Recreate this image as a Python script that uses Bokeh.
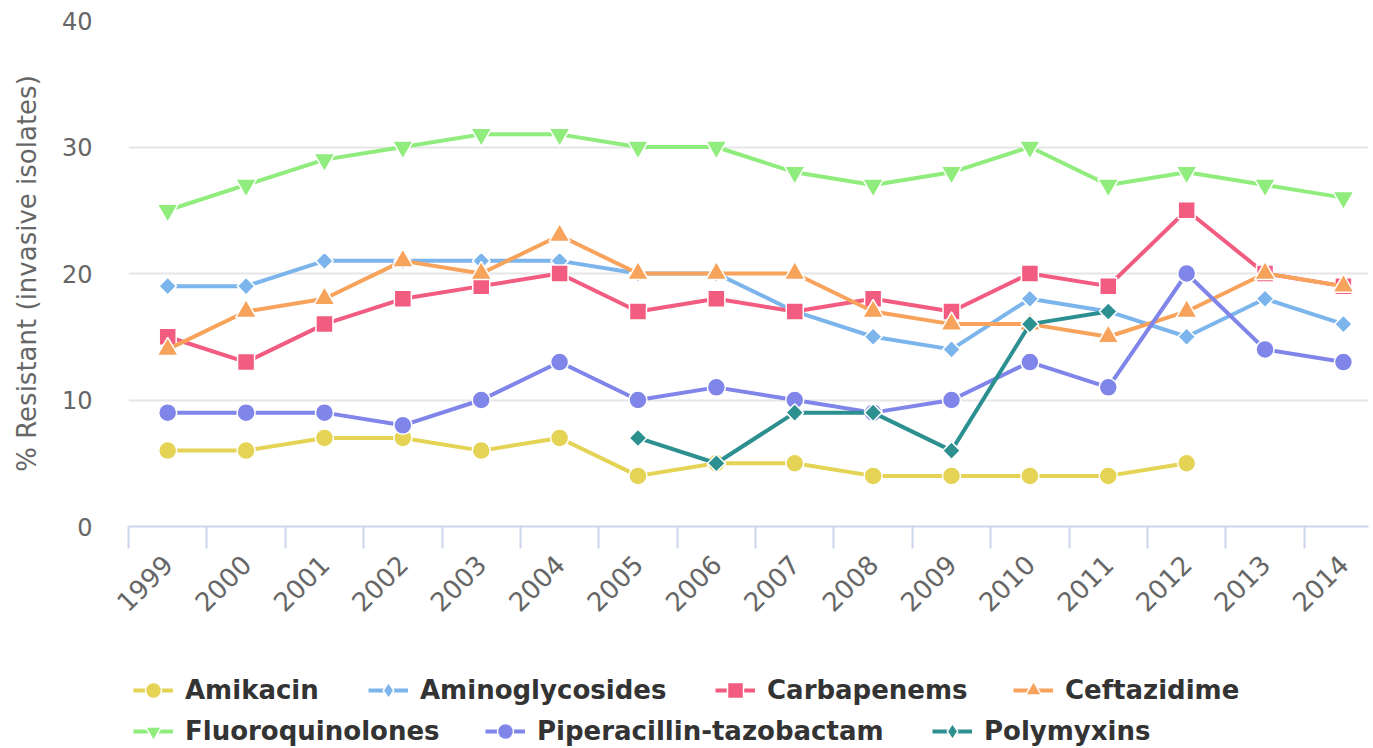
from math import pi
from bokeh.plotting import figure
from bokeh.layouts import column
from bokeh.models import Range1d, FixedTicker, Legend, LegendItem
from bokeh.embed import file_html
from bokeh.resources import INLINE

nan = float("nan")

years = [str(y) for y in range(1999, 2015)]
amikacin = [6, 6, 7, 7, 6, 7, 4, 5, 5, 4, 4, 4, 4, 5, nan, nan]
aminoglycosides = [19, 19, 21, 21, 21, 21, 20, 20, 17, 15, 14, 18, 17, 15, 18, 16]
carbapenems = [15, 13, 16, 18, 19, 20, 17, 18, 17, 18, 17, 20, 19, 25, 20, 19]
ceftazidime = [14, 17, 18, 21, 20, 23, 20, 20, 20, 17, 16, 16, 15, 17, 20, 19]
fluoroquinolones = [25, 27, 29, 30, 31, 31, 30, 30, 28, 27, 28, 30, 27, 28, 27, 26]
piperacillin_tazobactam = [9, 9, 9, 8, 10, 13, 10, 11, 10, 9, 10, 13, 11, 20, 14, 13]
polymyxins = [nan, nan, nan, nan, nan, nan, 7, 5, 9, 9, 6, 16, 17, nan, nan, nan]

series_names = ["Amikacin", "Aminoglycosides", "Carbapenems", "Ceftazidime",
                "Fluoroquinolones", "Piperacillin-tazobactam", "Polymyxins"]
series_values = [amikacin, aminoglycosides, carbapenems, ceftazidime,
                 fluoroquinolones, piperacillin_tazobactam, polymyxins]

FONT = "DejaVu Sans"
colors = ["#e4d354", "#7cb5ec", "#f15c80", "#f7a35c", "#90ed7d", "#8085e9", "#2b908f"]
# (marker, size, angle, legend marker, legend size)
markers = [("circle", 18, 0, "circle", 15),
           ("square", 12.5, pi / 4, "diamond", 16),
           ("square", 17, 0, "square", 14),
           ("triangle", 21, 0, "triangle", 17),
           ("inverted_triangle", 21, 0, "inverted_triangle", 17),
           ("circle", 18, 0, "circle", 15),
           ("square", 12.5, pi / 4, "diamond", 16)]
# legend placement in the legend strip (frame aligned with the chart frame)
legend_pos = [(5, 38), (240, 38), (587, 38), (885, 38),
              (5, -3), (357, -3), (804, -3)]

x = list(range(len(years)))

W = 1373
p = figure(width=W, height=640, output_backend="svg", toolbar_location=None,
           x_range=Range1d(-0.5, 15.32), y_range=Range1d(0, 40),
           min_border_left=128, min_border_right=5, min_border_top=20,
           min_border_bottom=114)
p.outline_line_color = None
p.background_fill_color = "white"
p.border_fill_color = "white"

# axes
p.xaxis.ticker = FixedTicker(ticks=x, minor_ticks=[i - 0.5 for i in x])
p.xaxis.major_label_overrides = {i: years[i] for i in x}
p.xaxis.major_label_orientation = pi / 4
p.xaxis.major_tick_in = 0
p.xaxis.major_tick_out = 0
p.xaxis.minor_tick_in = 0
p.xaxis.minor_tick_out = 22
p.xaxis.minor_tick_line_color = "#ccd6eb"
p.xaxis.minor_tick_line_width = 2
p.xaxis.axis_line_color = "#ccd6eb"
p.xaxis.axis_line_width = 2
p.xaxis.major_label_standoff = 11
p.xaxis.major_label_text_font = FONT
p.xaxis.major_label_text_font_size = "26px"
p.xaxis.major_label_text_color = "#666666"

p.yaxis.ticker = FixedTicker(ticks=[0, 10, 20, 30, 40])
p.yaxis.axis_line_color = None
p.yaxis.major_tick_out = 0
p.yaxis.major_tick_in = 0
p.yaxis.minor_tick_out = 0
p.yaxis.minor_tick_in = 0
p.yaxis.major_label_standoff = 36
p.yaxis.major_label_text_font = FONT
p.yaxis.major_label_text_font_size = "24px"
p.yaxis.major_label_text_color = "#666666"
p.yaxis.axis_label = "% Resistant (invasive isolates)"
p.yaxis.axis_label_text_font = FONT
p.yaxis.axis_label_text_font_size = "26px"
p.yaxis.axis_label_text_font_style = "normal"
p.yaxis.axis_label_text_color = "#666666"
p.yaxis.axis_label_standoff = 17

p.xgrid.visible = False
p.ygrid.ticker = FixedTicker(ticks=[0, 10, 20, 30, 40])
p.ygrid.grid_line_color = "#e6e6e6"
p.ygrid.grid_line_width = 2

# legend strip
LH = 108
q = figure(width=W, height=LH, output_backend="svg", toolbar_location=None,
           x_range=Range1d(0, W), y_range=Range1d(0, LH),
           x_axis_type=None, y_axis_type=None,
           min_border_left=0, min_border_right=0, min_border_top=0,
           min_border_bottom=0)
q.outline_line_color = None
q.xgrid.visible = False
q.ygrid.visible = False

for name, vals, col, (mk, sz, ang, lmk, lsz), (lx, ly) in zip(
        series_names, series_values, colors, markers, legend_pos):
    p.line(x, vals, line_color=col, line_width=4, line_join="round")
    p.scatter(x, vals, marker=mk, size=sz, angle=ang, fill_color=col,
              line_color="white", line_width=1.5)
    # legend-only glyphs (placed off the visible range of the strip)
    lr = q.line([-500, -400], [-500, -500], line_color=col, line_width=4)
    ls = q.scatter([-450], [-500], marker=lmk, size=lsz, fill_color=col,
                   line_color="white", line_width=1.5)
    leg = Legend(items=[LegendItem(label=name, renderers=[lr, ls])],
                 location=(lx, ly), orientation="horizontal",
                 padding=0, margin=0, spacing=0,
                 glyph_width=40, glyph_height=40, label_standoff=12,
                 label_text_font=FONT, label_text_font_size="26px",
                 label_text_font_style="bold", label_text_color="#333333",
                 border_line_color=None, background_fill_alpha=0)
    q.add_layout(leg, "center")

layout = column(p, q, spacing=0)
open("out.html", "w").write(file_html(layout, INLINE))
